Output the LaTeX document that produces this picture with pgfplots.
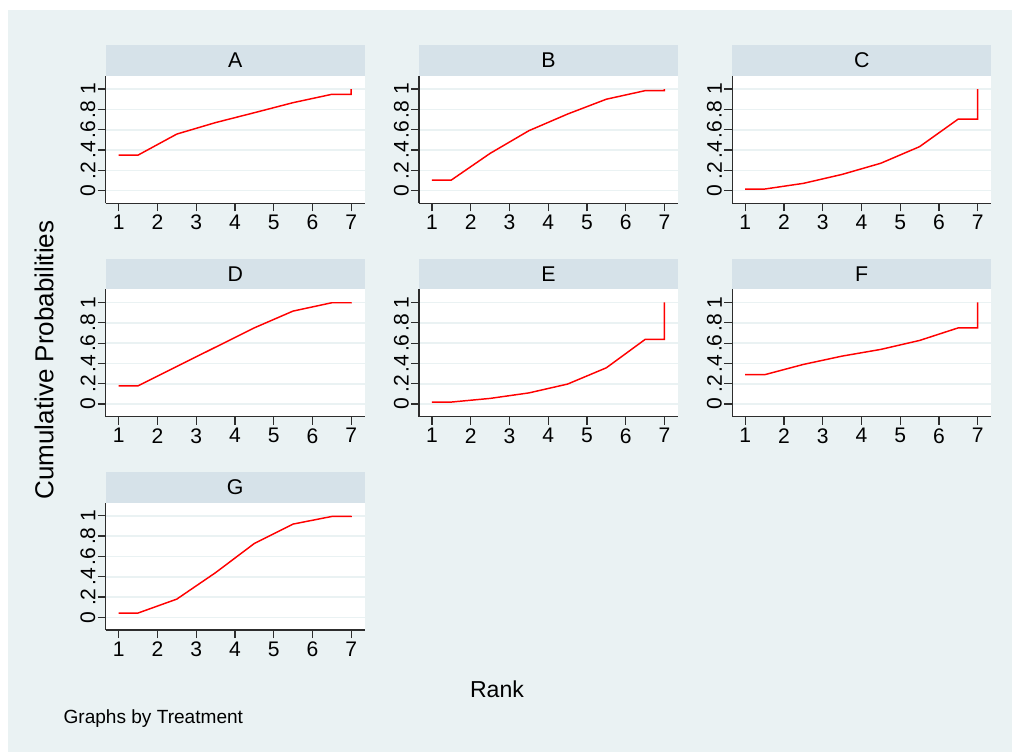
\documentclass[border=0pt]{standalone}
\usepackage{fontspec}
\setmainfont{Liberation Sans}
\usepackage{pgfplots}
\pgfplotsset{compat=1.18}

\definecolor{bgc}{RGB}{234,242,243}
\definecolor{stripc}{RGB}{214,226,233}
\definecolor{gridc}{RGB}{234,242,243}
\definecolor{axc}{RGB}{45,45,45}

\pgfplotsset{
  every axis title shift=0pt,
  panel/.style={
    scale only axis, width=194.25pt, height=95.6pt,
    anchor=south west,
    xmin=0.665, xmax=7.35, ymin=-0.124, ymax=1.13,
    axis lines*=left,
    axis line style={axc, line width=0.9pt},
    tick style={axc, line width=0.9pt},
    tick align=outside, major tick length=6pt,
    xtick={1,...,7}, xticklabels={1,2,3,4,5,6,7},
    ytick={0,0.2,0.4,0.6,0.8,1}, yticklabels={0,.2,.4,.6,.8,1},
    yticklabel style={rotate=90, anchor=south, inner sep=1.5pt},
    xticklabel style={inner sep=1.5pt, yshift=-1pt},
    ticklabel style={font=\fontsize{15.8}{18}\selectfont},
    ymajorgrids, grid style={gridc, line width=1.2pt},
    axis background/.style={fill=white},
    title style={at={(0.5,1)}, anchor=south, fill=stripc,
      minimum width=194.25pt, minimum height=22.9pt,
      inner sep=0pt, outer sep=0pt, yshift=0pt,
      font=\fontsize{16}{18}\selectfont},
  },
  curve/.style={red, line width=1.1pt},
}

\begin{document}
\begin{tikzpicture}[x=0.75pt, y=-0.75pt]
\useasboundingbox (0,0) rectangle (1012,752);
\fill[white] (0,0) rectangle (1012,752);
\fill[bgc] (8,10) rectangle (1012,752);

% panel corners (bottom left of plot area), image pixels
\coordinate (pA) at (105.7,203.3);
\coordinate (pB) at (419.0,203.3);
\coordinate (pC) at (732.2,203.3);
\coordinate (pD) at (105.7,416.7);
\coordinate (pE) at (419.0,416.7);
\coordinate (pF) at (732.2,416.7);
\coordinate (pG) at (105.7,630.0);

\begin{axis}[panel, at={(pA)}, title={A}]
\addplot[curve] coordinates {(1,0.35)(1.5,0.35)(2.5,0.557)(3.5,0.67)(4.5,0.767)(5.5,0.866)(6.5,0.948)(7,0.948)(7,1)};
\end{axis}
\begin{axis}[panel, at={(pB)}, title={B}]
\addplot[curve] coordinates {(1,0.105)(1.5,0.105)(2.5,0.367)(3.5,0.59)(4.5,0.754)(5.5,0.90)(6.5,0.984)(7,0.984)(7,1)};
\end{axis}
\begin{axis}[panel, at={(pC)}, title={C}]
\addplot[curve] coordinates {(1,0.016)(1.5,0.016)(2.5,0.072)(3.5,0.16)(4.5,0.27)(5.5,0.433)(6.5,0.705)(7,0.705)(7,1)};
\end{axis}
\begin{axis}[panel, at={(pD)}, title={D}]
\addplot[curve] coordinates {(1,0.18)(1.5,0.18)(2.5,0.37)(3.5,0.56)(4.5,0.75)(5.5,0.915)(6.5,0.997)(7,0.997)(7,1)};
\end{axis}
\begin{axis}[panel, at={(pE)}, title={E}]
\addplot[curve] coordinates {(1,0.02)(1.5,0.02)(2.5,0.056)(3.5,0.11)(4.5,0.197)(5.5,0.357)(6.5,0.636)(7,0.636)(7,1)};
\end{axis}
\begin{axis}[panel, at={(pF)}, title={F}]
\addplot[curve] coordinates {(1,0.289)(1.5,0.289)(2.5,0.39)(3.5,0.472)(4.5,0.538)(5.5,0.626)(6.5,0.75)(7,0.75)(7,1)};
\end{axis}
\begin{axis}[panel, at={(pG)}, title={G}]
\addplot[curve] coordinates {(1,0.043)(1.5,0.043)(2.5,0.18)(3.5,0.44)(4.5,0.727)(5.5,0.918)(6.5,0.993)(7,0.993)(7,1)};
\end{axis}

\node[rotate=90, font=\fontsize{19.5}{22}\selectfont] at (44.2,360) {Cumulative Probabilities};
\node[anchor=base, inner sep=0pt, font=\fontsize{17.3}{20}\selectfont] at (497,697) {Rank};
\node[anchor=base west, inner sep=0pt, font=\fontsize{14.3}{17}\selectfont] at (63.3,723) {Graphs by Treatment};
\end{tikzpicture}
\end{document}
